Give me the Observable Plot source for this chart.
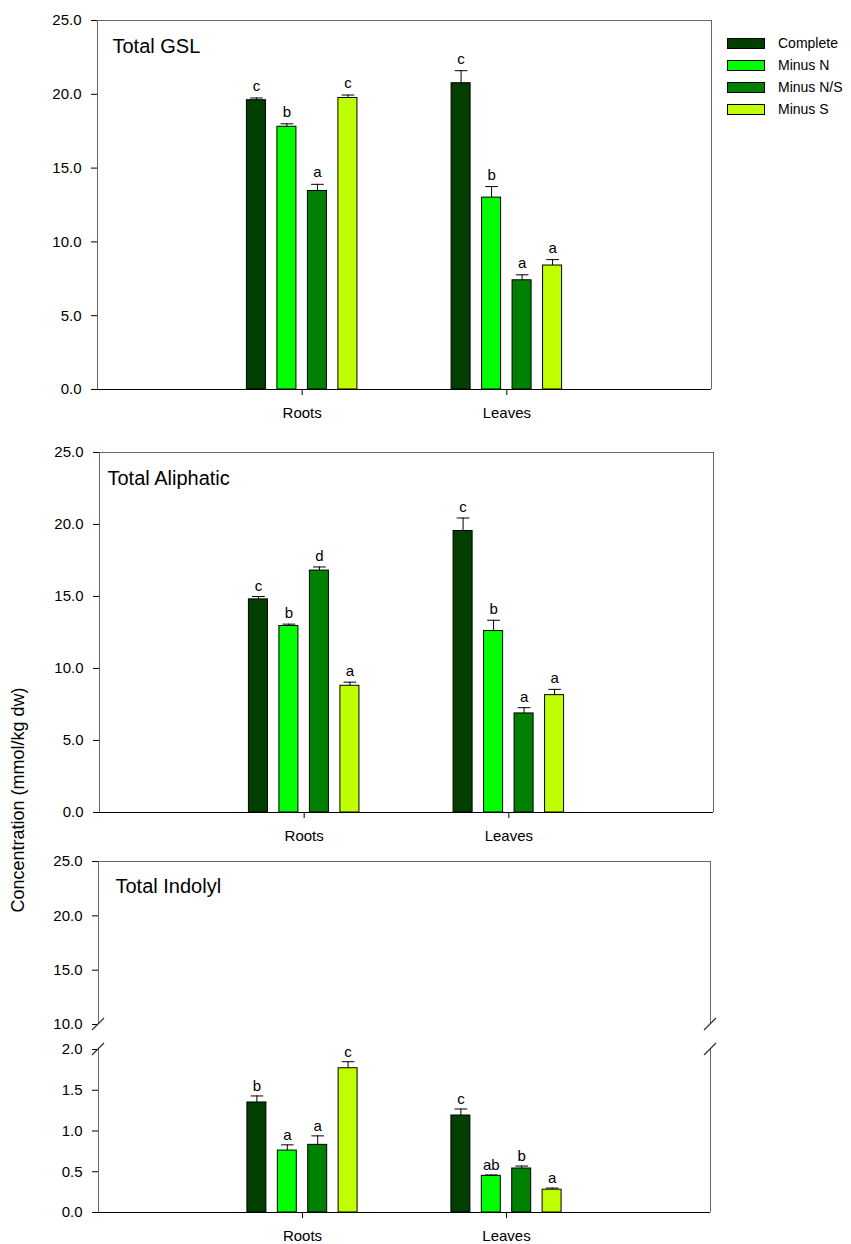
<!DOCTYPE html>
<html>
<head>
<meta charset="utf-8">
<script src="https://cdn.jsdelivr.net/npm/d3@7"></script>
<script src="https://cdn.jsdelivr.net/npm/@observablehq/plot@0.6"></script>
<style>
  body { margin: 0; background: #fff; font-family: Arial, "Liberation Sans", sans-serif; }
  #wrap { position: relative; width: 851px; height: 1244px; background: #fff; }
  #wrap svg { position: absolute; left: 0; }
  .legend { position: absolute; left: 727px; top: 32px; font-size: 14px; color: #000; }
  .legend .row { display: flex; align-items: center; height: 22px; }
  .legend .sw { width: 36px; height: 9px; border: 1px solid #000; margin-right: 13px; }
  .ylab { position: absolute; left: 18px; top: 800px; transform: translate(-50%, -50%) rotate(-90deg);
          white-space: nowrap; font-size: 18px; color: #000; }
</style>
</head>
<body>
<div id="wrap"></div>
<script>
// ---------- data ----------
const organs = ["Roots", "Leaves"];
const treatments = ["Complete", "Minus N", "Minus N/S", "Minus S"];
const colors = ["#003f00", "#00ff00", "#008000", "#c0ff00"];

// values ordered: Roots (Complete, Minus N, Minus N/S, Minus S), then Leaves (same order)
const gslMean = [19.6, 17.8, 13.45, 19.75, 20.75, 13.0, 7.4, 8.4];
const gslErr = [0.15, 0.2, 0.45, 0.2, 0.85, 0.75, 0.37, 0.4];
const gslLetters = ["c", "b", "a", "c", "c", "b", "a", "a"];

const aliMean = [14.8, 12.95, 16.8, 8.8, 19.55, 12.6, 6.88, 8.15];
const aliErr = [0.2, 0.13, 0.25, 0.25, 0.9, 0.75, 0.4, 0.4];
const aliLetters = ["c", "b", "d", "a", "c", "b", "a", "a"];

const indMean = [1.35, 0.76, 0.83, 1.77, 1.19, 0.45, 0.54, 0.28];
const indErr = [0.08, 0.07, 0.11, 0.08, 0.08, 0.01, 0.03, 0.02];
const indLetters = ["b", "a", "a", "c", "c", "ab", "b", "a"];

const panelTitles = ["Total GSL", "Total Aliphatic", "Total Indolyl"];
const yTicksMain = [0, 5, 10, 15, 20, 25];
const yTicksUpper = [10, 15, 20, 25];
const yTicksLower = [0, 0.5, 1.0, 1.5, 2.0];
const yLabel = "Concentration (mmol/kg dw)";

// ---------- helpers ----------
function rows(mean, err, letters) {
  return mean.map((v, i) => ({
    g: Math.floor(i / 4) + 1, t: i % 4, organ: organs[Math.floor(i / 4)],
    treatment: treatments[i % 4], value: v, err: err[i], letter: letters[i]
  }));
}
const PITCH = 0.149, BARW = 0.093, CAP = 0.031;
const cx = d => d.g + (d.t - 1.5) * PITCH;
const errTop = d => d.value + d.err;
const FONT = 'Arial, "Liberation Sans", sans-serif';
const fmt = d3.format(".1f");
const FRAME = "#666";

function barMarks(data, dy) {
  return [
    Plot.rect(data, {x1: d => cx(d) - BARW / 2, x2: d => cx(d) + BARW / 2, y1: () => 0, y2: "value",
      fill: d => colors[d.t], stroke: "#000", strokeWidth: 1}),
    Plot.ruleX(data, {x: cx, y1: "value", y2: errTop, stroke: "#000", strokeWidth: 1}),
    Plot.link(data, {x1: d => cx(d) - CAP, x2: d => cx(d) + CAP, y1: errTop, y2: errTop, stroke: "#000", strokeWidth: 1}),
    Plot.text(data, {x: cx, y: errTop, text: "letter", dy, lineAnchor: "bottom", fontSize: 15, fill: "#000"})
  ];
}
function titleMark(t, dx, dy) {
  return Plot.text([t], {text: d => d, frameAnchor: "top-left", textAnchor: "start", lineAnchor: "top",
    dx, dy, fontSize: 20, fill: "#000"});
}
const wrap = document.getElementById("wrap");
function place(svg, topPx) { svg.style.top = topPx + "px"; wrap.appendChild(svg); return svg; }

const baseStyle = {fontSize: "15px", fontFamily: FONT, background: "transparent", overflow: "visible", color: "#000"};
const xAxisOpts = {domain: [0, 3], ticks: [1, 2], tickFormat: d => organs[d - 1], tickSize: 6, tickPadding: 12, label: null};

// ---------- Panel 1: Total GSL ----------
const gsl = rows(gslMean, gslErr, gslLetters);
place(Plot.plot({
  width: 851, height: 429, marginTop: 20, marginBottom: 40, marginLeft: 97, marginRight: 140,
  style: baseStyle,
  x: xAxisOpts,
  y: {domain: [0, 25], ticks: yTicksMain, tickFormat: fmt, tickSize: 6, tickPadding: 10, label: null},
  color: {type: "identity"},
  marks: [
    Plot.ruleY([25], {stroke: FRAME}),
    Plot.ruleX([0, 3], {stroke: FRAME}),
    ...barMarks(gsl, -7),
    Plot.ruleY([0], {stroke: "#000"}),
    titleMark(panelTitles[0], 15, 18)
  ]
}), 0);

// ---------- Panel 2: Total Aliphatic ----------
const ali = rows(aliMean, aliErr, aliLetters);
place(Plot.plot({
  width: 851, height: 420, marginTop: 20, marginBottom: 40, marginLeft: 99, marginRight: 138,
  style: baseStyle,
  x: xAxisOpts,
  y: {domain: [0, 25], ticks: yTicksMain, tickFormat: fmt, tickSize: 6, tickPadding: 10, label: null},
  color: {type: "identity"},
  marks: [
    Plot.ruleY([25], {stroke: FRAME}),
    Plot.ruleX([0, 3], {stroke: FRAME}),
    ...barMarks(ali, -6),
    Plot.ruleY([0], {stroke: "#000"}),
    titleMark(panelTitles[1], 8, 18)
  ]
}), 432);

// ---------- Panel 3: Total Indolyl (broken axis) ----------
const ind = rows(indMean, indErr, indLetters);
const upper = place(Plot.plot({
  width: 851, height: 193, marginTop: 20, marginBottom: 10, marginLeft: 98, marginRight: 141,
  style: baseStyle,
  x: {domain: [0, 3], axis: null},
  y: {domain: [10, 25], ticks: yTicksUpper, tickFormat: fmt, tickSize: 6, tickPadding: 10, label: null},
  marks: [
    Plot.ruleY([25], {stroke: FRAME}),
    Plot.ruleX([0, 3], {stroke: FRAME}),
    titleMark(panelTitles[2], 17, 17)
  ]
}), 841);

const lower = place(Plot.plot({
  width: 851, height: 213, marginTop: 10, marginBottom: 40, marginLeft: 98, marginRight: 141,
  style: baseStyle,
  x: xAxisOpts,
  y: {domain: [0, 2], ticks: yTicksLower, tickFormat: fmt, tickSize: 6, tickPadding: 10, label: null},
  color: {type: "identity"},
  marks: [
    Plot.ruleX([0, 3], {stroke: FRAME}),
    ...barMarks(ind, -5),
    Plot.ruleY([0], {stroke: "#000"})
  ]
}), 1039);

// axis-break slashes at the plot corners
function slashes(svg, yPx, left, right) {
  const s = d3.select(svg);
  for (const x of [left, right]) {
    s.append("line").attr("x1", x - 6).attr("y1", yPx + 6).attr("x2", x + 6).attr("y2", yPx - 6)
      .attr("stroke", "#333").attr("stroke-width", 1.2);
  }
}
slashes(upper, 193 - 10, 98, 851 - 141);
slashes(lower, 10, 98, 851 - 141);

// ---------- legend ----------
const leg = document.createElement("div");
leg.className = "legend";
treatments.forEach((t, i) => {
  const r = document.createElement("div"); r.className = "row";
  const sw = document.createElement("div"); sw.className = "sw"; sw.style.background = colors[i];
  const lb = document.createElement("span"); lb.textContent = t;
  r.appendChild(sw); r.appendChild(lb); leg.appendChild(r);
});
wrap.appendChild(leg);

// ---------- y label ----------
const yl = document.createElement("div");
yl.className = "ylab"; yl.textContent = yLabel;
wrap.appendChild(yl);
</script>
</body>
</html>
